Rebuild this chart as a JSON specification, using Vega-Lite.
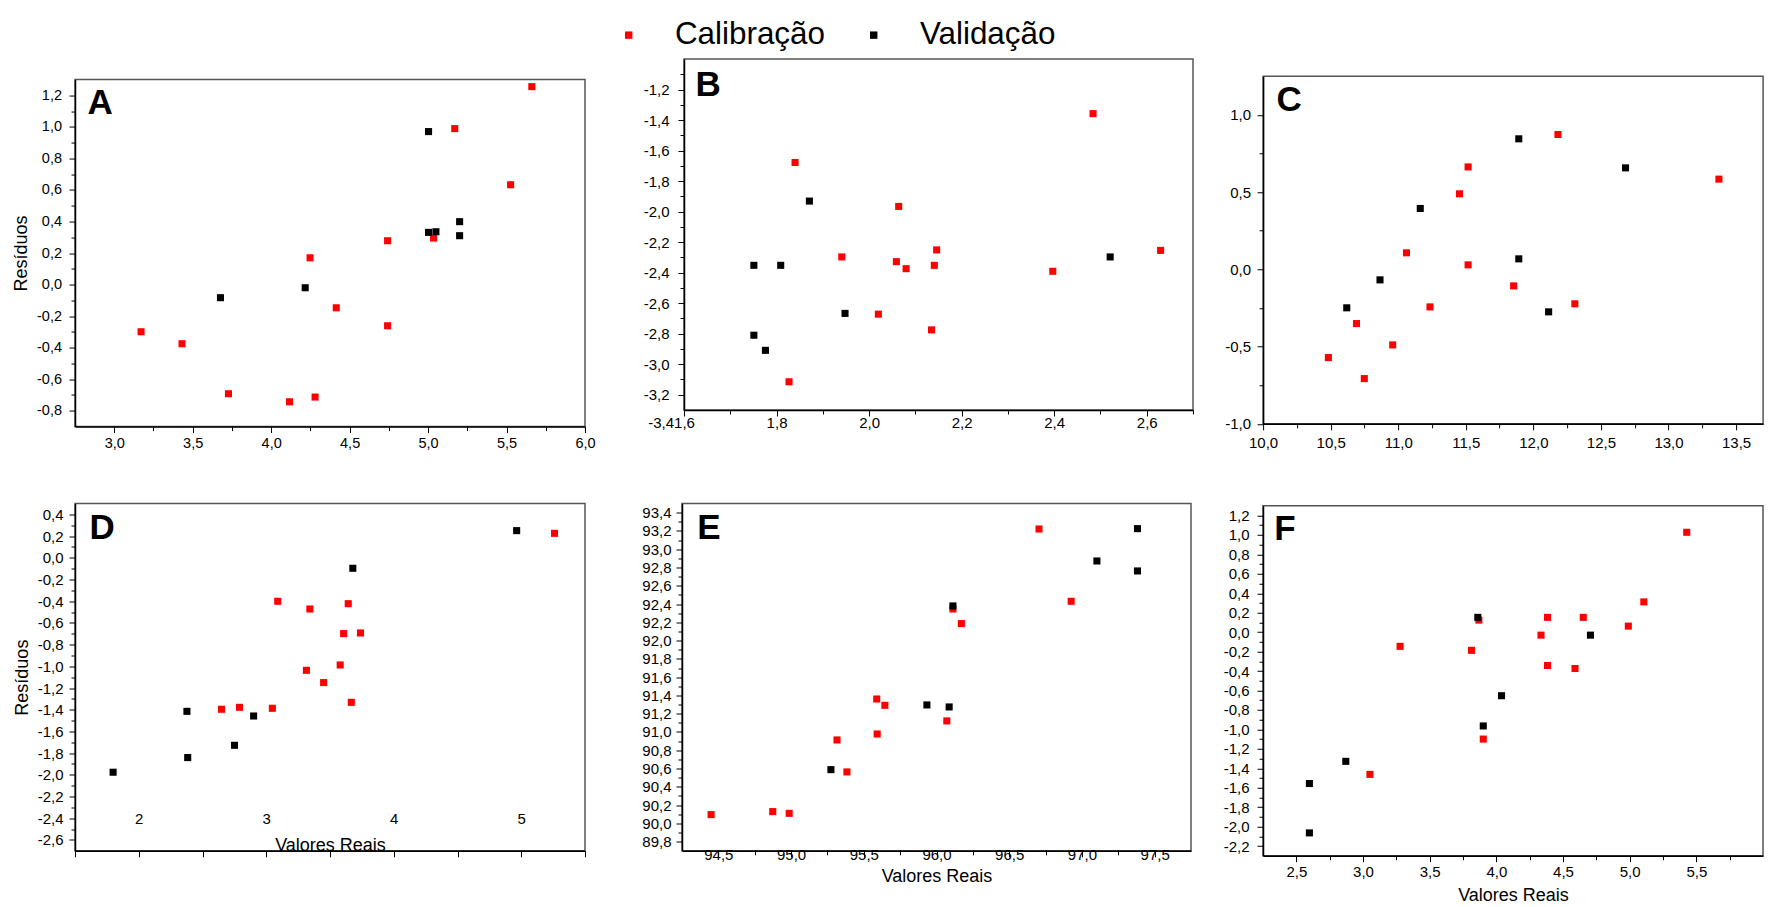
{
  "$schema": "https://vega.github.io/schema/vega-lite/v6.json",
  "background": "white",
  "padding": {"left": 11, "top": 19, "right": 0, "bottom": 0},
  "config": {
    "font": "Liberation Sans",
    "locale": {"number": {"decimal": ",", "thousands": ".", "grouping": [3], "currency": ["", ""], "minus": "-"}},
    "view": {"stroke": "#555555", "strokeWidth": 1.5},
    "axis": {"grid": false, "domainColor": "#000000", "domainWidth": 1.5, "tickColor": "#000000", "tickWidth": 1, "labelColor": "#000000", "labelFontSize": 15, "labelFont": "Liberation Sans", "titleFont": "Liberation Sans", "titleFontWeight": "normal", "titleFontSize": 18, "titleColor": "#000000", "labelFlush": false, "labelOverlap": false, "labelBound": false, "minExtent": 0, "maxExtent": 400}
  },
  "data": {"values": [
    {"p":"A","s":"Calibração","x":3.171,"y":-0.299},{"p":"A","s":"Calibração","x":3.432,"y":-0.375},{"p":"A","s":"Calibração","x":3.728,"y":-0.692},{"p":"A","s":"Calibração","x":4.117,"y":-0.743},{"p":"A","s":"Calibração","x":4.28,"y":-0.713},{"p":"A","s":"Calibração","x":4.248,"y":0.17},{"p":"A","s":"Calibração","x":4.415,"y":-0.147},{"p":"A","s":"Calibração","x":4.742,"y":0.278},{"p":"A","s":"Calibração","x":4.742,"y":-0.261},{"p":"A","s":"Calibração","x":5.035,"y":0.295},{"p":"A","s":"Calibração","x":5.17,"y":0.989},{"p":"A","s":"Calibração","x":5.526,"y":0.633},{"p":"A","s":"Calibração","x":5.661,"y":1.255},
    {"p":"A","s":"Validação","x":3.677,"y":-0.083},{"p":"A","s":"Validação","x":4.217,"y":-0.02},{"p":"A","s":"Validação","x":5.003,"y":0.97},{"p":"A","s":"Validação","x":5.003,"y":0.331},{"p":"A","s":"Validação","x":5.05,"y":0.335},{"p":"A","s":"Validação","x":5.201,"y":0.399},{"p":"A","s":"Validação","x":5.201,"y":0.31},
    {"p":"B","s":"Calibração","x":1.84,"y":-1.678},{"p":"B","s":"Calibração","x":1.827,"y":-3.115},{"p":"B","s":"Calibração","x":1.941,"y":-2.297},{"p":"B","s":"Calibração","x":2.02,"y":-2.672},{"p":"B","s":"Calibração","x":2.059,"y":-2.328},{"p":"B","s":"Calibração","x":2.064,"y":-1.966},{"p":"B","s":"Calibração","x":2.08,"y":-2.374},{"p":"B","s":"Calibração","x":2.135,"y":-2.775},{"p":"B","s":"Calibração","x":2.141,"y":-2.352},{"p":"B","s":"Calibração","x":2.146,"y":-2.251},{"p":"B","s":"Calibração","x":2.397,"y":-2.391},{"p":"B","s":"Calibração","x":2.484,"y":-1.358},{"p":"B","s":"Calibração","x":2.63,"y":-2.254},
    {"p":"B","s":"Validação","x":1.751,"y":-2.352},{"p":"B","s":"Validação","x":1.751,"y":-2.81},{"p":"B","s":"Validação","x":1.776,"y":-2.909},{"p":"B","s":"Validação","x":1.809,"y":-2.352},{"p":"B","s":"Validação","x":1.871,"y":-1.931},{"p":"B","s":"Validação","x":1.948,"y":-2.667},{"p":"B","s":"Validação","x":2.521,"y":-2.297},
    {"p":"C","s":"Calibração","x":10.483,"y":-0.571},{"p":"C","s":"Calibração","x":10.691,"y":-0.351},{"p":"C","s":"Calibração","x":10.749,"y":-0.707},{"p":"C","s":"Calibração","x":10.959,"y":-0.489},{"p":"C","s":"Calibração","x":11.061,"y":0.107},{"p":"C","s":"Calibração","x":11.235,"y":-0.243},{"p":"C","s":"Calibração","x":11.453,"y":0.489},{"p":"C","s":"Calibração","x":11.517,"y":0.663},{"p":"C","s":"Calibração","x":11.517,"y":0.029},{"p":"C","s":"Calibração","x":11.854,"y":-0.107},{"p":"C","s":"Calibração","x":12.182,"y":0.873},{"p":"C","s":"Calibração","x":12.307,"y":-0.223},{"p":"C","s":"Calibração","x":13.373,"y":0.584},
    {"p":"C","s":"Validação","x":10.619,"y":-0.249},{"p":"C","s":"Validação","x":10.865,"y":-0.068},{"p":"C","s":"Validação","x":11.163,"y":0.394},{"p":"C","s":"Validação","x":11.892,"y":0.845},{"p":"C","s":"Validação","x":11.892,"y":0.068},{"p":"C","s":"Validação","x":12.113,"y":-0.275},{"p":"C","s":"Validação","x":12.682,"y":0.657},
    {"p":"D","s":"Calibração","x":2.649,"y":-1.396},{"p":"D","s":"Calibração","x":2.79,"y":-1.378},{"p":"D","s":"Calibração","x":3.048,"y":-1.387},{"p":"D","s":"Calibração","x":3.09,"y":-0.401},{"p":"D","s":"Calibração","x":3.315,"y":-1.037},{"p":"D","s":"Calibração","x":3.342,"y":-0.472},{"p":"D","s":"Calibração","x":3.45,"y":-1.15},{"p":"D","s":"Calibração","x":3.58,"y":-0.988},{"p":"D","s":"Calibração","x":3.607,"y":-0.699},{"p":"D","s":"Calibração","x":3.643,"y":-0.423},{"p":"D","s":"Calibração","x":3.667,"y":-1.332},{"p":"D","s":"Calibração","x":3.739,"y":-0.693},{"p":"D","s":"Calibração","x":5.261,"y":0.225},
    {"p":"D","s":"Validação","x":1.799,"y":-1.976},{"p":"D","s":"Validação","x":2.378,"y":-1.415},{"p":"D","s":"Validação","x":2.384,"y":-1.841},{"p":"D","s":"Validação","x":2.751,"y":-1.728},{"p":"D","s":"Validação","x":2.901,"y":-1.458},{"p":"D","s":"Validação","x":3.679,"y":-0.097},{"p":"D","s":"Validação","x":4.964,"y":0.25},
    {"p":"E","s":"Calibração","x":94.45,"y":90.096},{"p":"E","s":"Calibração","x":94.874,"y":90.129},{"p":"E","s":"Calibração","x":94.987,"y":90.11},{"p":"E","s":"Calibração","x":95.316,"y":90.913},{"p":"E","s":"Calibração","x":95.384,"y":90.563},{"p":"E","s":"Calibração","x":95.589,"y":91.361},{"p":"E","s":"Calibração","x":95.592,"y":90.978},{"p":"E","s":"Calibração","x":95.645,"y":91.292},{"p":"E","s":"Calibração","x":96.071,"y":91.121},{"p":"E","s":"Calibração","x":96.113,"y":92.346},{"p":"E","s":"Calibração","x":96.171,"y":92.186},{"p":"E","s":"Calibração","x":96.705,"y":93.221},{"p":"E","s":"Calibração","x":96.926,"y":92.43},
    {"p":"E","s":"Validação","x":95.274,"y":90.588},{"p":"E","s":"Validação","x":95.934,"y":91.296},{"p":"E","s":"Validação","x":96.087,"y":91.274},{"p":"E","s":"Validação","x":96.113,"y":92.379},{"p":"E","s":"Validação","x":97.103,"y":92.871},{"p":"E","s":"Validação","x":97.382,"y":93.225},{"p":"E","s":"Validação","x":97.382,"y":92.762},
    {"p":"F","s":"Calibração","x":3.052,"y":-1.463},{"p":"F","s":"Calibração","x":3.278,"y":-0.146},{"p":"F","s":"Calibração","x":3.814,"y":-0.187},{"p":"F","s":"Calibração","x":3.869,"y":0.124},{"p":"F","s":"Calibração","x":3.902,"y":-1.1},{"p":"F","s":"Calibração","x":4.335,"y":-0.031},{"p":"F","s":"Calibração","x":4.384,"y":0.152},{"p":"F","s":"Calibração","x":4.384,"y":-0.343},{"p":"F","s":"Calibração","x":4.59,"y":-0.374},{"p":"F","s":"Calibração","x":4.652,"y":0.152},{"p":"F","s":"Calibração","x":4.99,"y":0.062},{"p":"F","s":"Calibração","x":5.106,"y":0.311},{"p":"F","s":"Calibração","x":5.428,"y":1.027},
    {"p":"F","s":"Validação","x":3.861,"y":0.152},{"p":"F","s":"Validação","x":3.902,"y":-0.965},{"p":"F","s":"Validação","x":4.039,"y":-0.654},{"p":"F","s":"Validação","x":4.706,"y":-0.031},{"p":"F","s":"Validação","x":2.871,"y":-1.329},{"p":"F","s":"Validação","x":2.598,"y":-1.557},{"p":"F","s":"Validação","x":2.598,"y":-2.065}
  ]},
  "spacing": 50.5,
  "vconcat": [
    {
      "spacing": 46,
      "hconcat": [
        {
          "spacing": 18.55,
          "vconcat": [
            {"width": 510, "height": 1, "data": {"values": []}, "mark": {"type": "point"}, "encoding": {}, "view": {"stroke": null}},
            {
              "width": 510, "height": 347,
              "layer": [
                {
                  "transform": [{"filter": "datum.p == 'A'"}],
                  "mark": {"type": "square", "size": 50, "opacity": 1},
                  "encoding": {
                    "x": {"field": "x", "type": "quantitative", "scale": {"domain": [2.75, 6.0], "nice": false, "zero": false},
                      "axis": {"title": null, "tickCount": 200, "values": [3, 3.25, 3.5, 3.75, 4, 4.25, 4.5, 4.75, 5, 5.25, 5.5, 5.75, 6], "format": ".1f", "labelExpr": "round(datum.value*4) % 2 == 0 ? datum.label : ''", "tickSize": {"condition": {"test": "round(datum.value*4) % 2 == 0", "value": 6}, "value": 4}, "labelFontSize": 14.5, "labelPadding": 3.75}},
                    "y": {"field": "y", "type": "quantitative", "scale": {"domain": [-0.9, 1.3], "nice": false, "zero": false},
                      "axis": {"title": "Resíduos", "titlePadding": 6, "tickCount": 200, "values": [-0.8,-0.7,-0.6,-0.5,-0.4,-0.3,-0.2,-0.1,0,0.1,0.2,0.3,0.4,0.5,0.6,0.7,0.8,0.9,1.0,1.1,1.2], "format": ".1f", "labelExpr": "round(datum.value*10) % 2 == 0 ? datum.label : ''", "tickSize": {"condition": {"test": "round(datum.value*10) % 2 == 0", "value": 6}, "value": 4}, "labelFontSize": 14.5, "labelPadding": 7.5}},
                    "color": {"field": "s", "type": "nominal", "scale": {"domain": ["Calibração", "Validação"], "range": ["#ff0000", "#000000"]},
                      "legend": {"orient": "none", "legendX": 538, "legendY": -40, "direction": "horizontal", "title": null, "symbolType": "square", "symbolSize": 55, "symbolStrokeWidth": 0, "symbolOpacity": 1, "labelFontSize": 31.4, "labelOffset": 30.5, "columnPadding": 33, "labelColor": "#000000", "padding": 0}}
                  }
                },
                {
                  "data": {"values": [{"t": "A"}]},
                  "mark": {"type": "text", "fontSize": 35, "fontWeight": "bold", "align": "left", "baseline": "middle", "color": "#000000"},
                  "encoding": {"x": {"datum": 2.83, "type": "quantitative"}, "y": {"datum": 1.154, "type": "quantitative"}, "text": {"field": "t"}}
                }
              ]
            }
          ]
        },
        {
          "spacing": 28.1,
          "hconcat": [
            {
              "width": 509, "height": 351,
              "layer": [
                {
                  "transform": [{"filter": "datum.p == 'B'"}],
                  "mark": {"type": "square", "size": 50, "opacity": 1},
                  "encoding": {
                    "x": {"field": "x", "type": "quantitative", "scale": {"domain": [1.6, 2.7], "nice": false, "zero": false},
                      "axis": {"title": null, "tickCount": 200, "values": [1.6,1.7,1.8,1.9,2.0,2.1,2.2,2.3,2.4,2.5,2.6,2.7], "format": ".1f", "labelExpr": "datum.value == 1.6 ? '-3,4' + datum.label : (round(datum.value*10) % 2 == 0 ? datum.label : '')", "labelAlign": {"condition": {"test": "datum.value == 1.6", "value": "right"}, "value": "center"}, "labelOffset": {"condition": {"test": "datum.value == 1.6", "value": 10.4}, "value": 0}, "tickSize": {"condition": {"test": "round(datum.value*10) % 2 == 0", "value": 6}, "value": 4}, "labelPadding": -0.2}},
                    "y": {"field": "y", "type": "quantitative", "scale": {"domain": [-3.3, -1.0], "nice": false, "zero": false},
                      "axis": {"title": null, "tickCount": 200, "values": [-3.2,-3.1,-3.0,-2.9,-2.8,-2.7,-2.6,-2.5,-2.4,-2.3,-2.2,-2.1,-2.0,-1.9,-1.8,-1.7,-1.6,-1.5,-1.4,-1.3,-1.2,-1.1], "format": ".1f", "labelExpr": "round(datum.value*10) % 2 == 0 ? datum.label : ''", "tickSize": {"condition": {"test": "round(datum.value*10) % 2 == 0", "value": 6}, "value": 4}, "labelPadding": 9}},
                    "color": {"field": "s", "type": "nominal", "scale": {"domain": ["Calibração", "Validação"], "range": ["#ff0000", "#000000"]},
                      "legend": {"orient": "none", "legendX": 538, "legendY": -40, "direction": "horizontal", "title": null, "symbolType": "square", "symbolSize": 55, "symbolStrokeWidth": 0, "symbolOpacity": 1, "labelFontSize": 31.4, "labelOffset": 30.5, "columnPadding": 33, "labelColor": "#000000", "padding": 0}}
                  }
                },
                {
                  "data": {"values": [{"t": "B"}]},
                  "mark": {"type": "text", "fontSize": 35, "fontWeight": "bold", "align": "left", "baseline": "middle", "color": "#000000"},
                  "encoding": {"x": {"datum": 1.625, "type": "quantitative"}, "y": {"datum": -1.169, "type": "quantitative"}, "text": {"field": "t"}}
                }
              ]
            },
            {
              "spacing": 15.25,
              "vconcat": [
                {"width": 500, "height": 1, "data": {"values": []}, "mark": {"type": "point"}, "encoding": {}, "view": {"stroke": null}},
                {
                  "width": 500, "height": 347.6,
                  "layer": [
                    {
                      "transform": [{"filter": "datum.p == 'C'"}],
                      "mark": {"type": "square", "size": 50, "opacity": 1},
                      "encoding": {
                        "x": {"field": "x", "type": "quantitative", "scale": {"domain": [10, 13.7], "nice": false, "zero": false},
                          "axis": {"title": null, "tickCount": 200, "values": [10,10.25,10.5,10.75,11,11.25,11.5,11.75,12,12.25,12.5,12.75,13,13.25,13.5], "format": ".1f", "labelExpr": "round(datum.value*4) % 2 == 0 ? datum.label : ''", "tickSize": {"condition": {"test": "round(datum.value*4) % 2 == 0", "value": 6}, "value": 4}, "labelPadding": 5.5}},
                        "y": {"field": "y", "type": "quantitative", "scale": {"domain": [-1.0, 1.25], "nice": false, "zero": false},
                          "axis": {"title": null, "tickCount": 200, "values": [-1,-0.75,-0.5,-0.25,0,0.25,0.5,0.75,1], "format": ".1f", "labelExpr": "round(datum.value*4) % 2 == 0 ? datum.label : ''", "tickSize": {"condition": {"test": "round(datum.value*4) % 2 == 0", "value": 6}, "value": 4}, "labelPadding": 6.5}},
                        "color": {"field": "s", "type": "nominal", "scale": {"domain": ["Calibração", "Validação"], "range": ["#ff0000", "#000000"]},
                          "legend": {"orient": "none", "legendX": 538, "legendY": -40, "direction": "horizontal", "title": null, "symbolType": "square", "symbolSize": 55, "symbolStrokeWidth": 0, "symbolOpacity": 1, "labelFontSize": 31.4, "labelOffset": 30.5, "columnPadding": 33, "labelColor": "#000000", "padding": 0}}
                      }
                    },
                    {
                      "data": {"values": [{"t": "C"}]},
                      "mark": {"type": "text", "fontSize": 35, "fontWeight": "bold", "align": "left", "baseline": "middle", "color": "#000000"},
                      "encoding": {"x": {"datum": 10.099, "type": "quantitative"}, "y": {"datum": 1.094, "type": "quantitative"}, "text": {"field": "t"}}
                    }
                  ]
                }
              ]
            }
          ]
        }
      ]
    },
    {
      "spacing": 54,
      "hconcat": [
        {
          "width": 510, "height": 347.3,
          "layer": [
            {
              "transform": [{"filter": "datum.p == 'D'"}],
              "mark": {"type": "square", "size": 50, "opacity": 1},
              "encoding": {
                "x": {"field": "x", "type": "quantitative", "scale": {"domain": [1.5, 5.5], "nice": false, "zero": false},
                  "axis": {"title": "Valores Reais", "titlePadding": -21, "tickCount": 200, "values": [1.5,2,2.5,3,3.5,4,4.5,5,5.5], "format": ".0f", "labelExpr": "round(datum.value*2) % 2 == 0 ? datum.label : ''", "tickSize": 6, "labelPadding": -45}},
                "y": {"field": "y", "type": "quantitative", "scale": {"domain": [-2.7, 0.5], "nice": false, "zero": false},
                  "axis": {"title": "Resíduos", "titlePadding": 6, "tickCount": 200, "values": [-2.6,-2.5,-2.4,-2.3,-2.2,-2.1,-2.0,-1.9,-1.8,-1.7,-1.6,-1.5,-1.4,-1.3,-1.2,-1.1,-1.0,-0.9,-0.8,-0.7,-0.6,-0.5,-0.4,-0.3,-0.2,-0.1,0,0.1,0.2,0.3,0.4], "format": ".1f", "labelExpr": "round(datum.value*10) % 2 == 0 ? datum.label : ''", "tickSize": {"condition": {"test": "round(datum.value*10) % 2 == 0", "value": 6}, "value": 4}, "labelPadding": 6}},
                "color": {"field": "s", "type": "nominal", "scale": {"domain": ["Calibração", "Validação"], "range": ["#ff0000", "#000000"]},
                  "legend": {"orient": "none", "legendX": 538, "legendY": -40, "direction": "horizontal", "title": null, "symbolType": "square", "symbolSize": 55, "symbolStrokeWidth": 0, "symbolOpacity": 1, "labelFontSize": 31.4, "labelOffset": 30.5, "columnPadding": 33, "labelColor": "#000000", "padding": 0}}
              }
            },
            {
              "data": {"values": [{"t": "D"}]},
              "mark": {"type": "text", "fontSize": 35, "fontWeight": "bold", "align": "left", "baseline": "middle", "color": "#000000"},
              "encoding": {"x": {"datum": 1.614, "type": "quantitative"}, "y": {"datum": 0.278, "type": "quantitative"}, "text": {"field": "t"}}
            }
          ]
        },
        {
          "spacing": 30,
          "hconcat": [
            {
              "width": 509, "height": 347.3,
              "layer": [
                {
                  "transform": [{"filter": "datum.p == 'E'"}],
                  "mark": {"type": "square", "size": 50, "opacity": 1},
                  "encoding": {
                    "x": {"field": "x", "type": "quantitative", "scale": {"domain": [94.25, 97.75], "nice": false, "zero": false},
                      "axis": {"title": "Valores Reais", "titlePadding": 5.8, "tickCount": 200, "values": [94.5,94.75,95,95.25,95.5,95.75,96,96.25,96.5,96.75,97,97.25,97.5], "format": ".1f", "labelExpr": "round(datum.value*4) % 2 == 0 ? datum.label : ''", "tickSize": {"condition": {"test": "round(datum.value*4) % 2 == 0", "value": 6}, "value": 4}, "labelPadding": -9.8}},
                    "y": {"field": "y", "type": "quantitative", "scale": {"domain": [89.7, 93.5], "nice": false, "zero": false},
                      "axis": {"title": null, "tickCount": 200, "values": [89.8,89.9,90.0,90.1,90.2,90.3,90.4,90.5,90.6,90.7,90.8,90.9,91.0,91.1,91.2,91.3,91.4,91.5,91.6,91.7,91.8,91.9,92.0,92.1,92.2,92.3,92.4,92.5,92.6,92.7,92.8,92.9,93.0,93.1,93.2,93.3,93.4], "format": ".1f", "labelExpr": "round(datum.value*10) % 2 == 0 ? datum.label : ''", "tickSize": {"condition": {"test": "round(datum.value*10) % 2 == 0", "value": 6}, "value": 4}, "labelPadding": 5}},
                    "color": {"field": "s", "type": "nominal", "scale": {"domain": ["Calibração", "Validação"], "range": ["#ff0000", "#000000"]},
                      "legend": {"orient": "none", "legendX": 538, "legendY": -40, "direction": "horizontal", "title": null, "symbolType": "square", "symbolSize": 55, "symbolStrokeWidth": 0, "symbolOpacity": 1, "labelFontSize": 31.4, "labelOffset": 30.5, "columnPadding": 33, "labelColor": "#000000", "padding": 0}}
                  }
                },
                {
                  "data": {"values": [{"t": "E"}]},
                  "mark": {"type": "text", "fontSize": 35, "fontWeight": "bold", "align": "left", "baseline": "middle", "color": "#000000"},
                  "encoding": {"x": {"datum": 94.355, "type": "quantitative"}, "y": {"datum": 93.231, "type": "quantitative"}, "text": {"field": "t"}}
                }
              ]
            },
            {
              "spacing": 0.25,
              "vconcat": [
                {"width": 500, "height": 1, "data": {"values": []}, "mark": {"type": "point"}, "encoding": {}, "view": {"stroke": null}},
                {
                  "width": 500, "height": 350,
                  "layer": [
                    {
                      "transform": [{"filter": "datum.p == 'F'"}],
                      "mark": {"type": "square", "size": 50, "opacity": 1},
                      "encoding": {
                        "x": {"field": "x", "type": "quantitative", "scale": {"domain": [2.25, 6.0], "nice": false, "zero": false},
                          "axis": {"title": "Valores Reais", "titlePadding": 7, "tickCount": 200, "values": [2.5,2.75,3,3.25,3.5,3.75,4,4.25,4.5,4.75,5,5.25,5.5,5.75], "format": ".1f", "labelExpr": "round(datum.value*4) % 2 == 0 ? datum.label : ''", "tickSize": {"condition": {"test": "round(datum.value*4) % 2 == 0", "value": 6}, "value": 4}, "labelPadding": 3}},
                        "y": {"field": "y", "type": "quantitative", "scale": {"domain": [-2.3, 1.3], "nice": false, "zero": false},
                          "axis": {"title": null, "tickCount": 200, "values": [-2.2,-2.1,-2.0,-1.9,-1.8,-1.7,-1.6,-1.5,-1.4,-1.3,-1.2,-1.1,-1.0,-0.9,-0.8,-0.7,-0.6,-0.5,-0.4,-0.3,-0.2,-0.1,0,0.1,0.2,0.3,0.4,0.5,0.6,0.7,0.8,0.9,1.0,1.1,1.2], "format": ".1f", "labelExpr": "round(datum.value*10) % 2 == 0 ? datum.label : ''", "tickSize": {"condition": {"test": "round(datum.value*10) % 2 == 0", "value": 6}, "value": 4}, "labelPadding": 8}},
                        "color": {"field": "s", "type": "nominal", "scale": {"domain": ["Calibração", "Validação"], "range": ["#ff0000", "#000000"]},
                          "legend": {"orient": "none", "legendX": 538, "legendY": -40, "direction": "horizontal", "title": null, "symbolType": "square", "symbolSize": 55, "symbolStrokeWidth": 0, "symbolOpacity": 1, "labelFontSize": 31.4, "labelOffset": 30.5, "columnPadding": 33, "labelColor": "#000000", "padding": 0}}
                      }
                    },
                    {
                      "data": {"values": [{"t": "F"}]},
                      "mark": {"type": "text", "fontSize": 35, "fontWeight": "bold", "align": "left", "baseline": "middle", "color": "#000000"},
                      "encoding": {"x": {"datum": 2.335, "type": "quantitative"}, "y": {"datum": 1.058, "type": "quantitative"}, "text": {"field": "t"}}
                    }
                  ]
                }
              ]
            }
          ]
        }
      ]
    }
  ]
}
